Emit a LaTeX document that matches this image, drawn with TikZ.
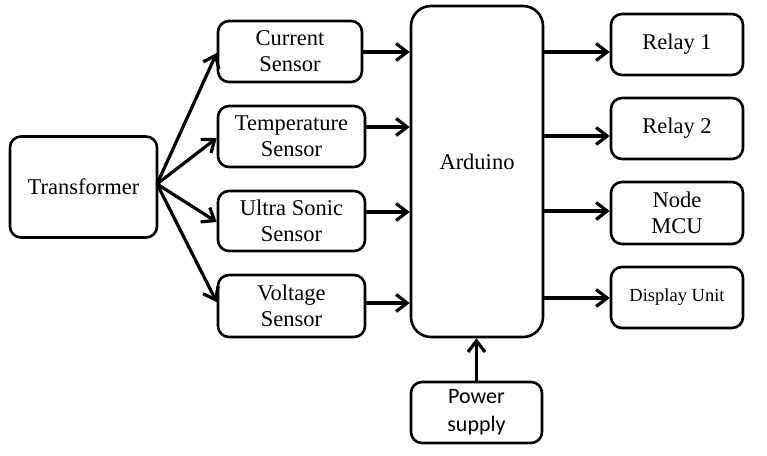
\documentclass[tikz,border=0pt]{standalone}
\usepackage{fontspec}
\setmainfont{Liberation Serif}
\newfontfamily\calib{Carlito}
\usetikzlibrary{arrows.meta}
\begin{document}
\begin{tikzpicture}[x=1pt,y=-1pt,
  box/.style={draw,line width=2.6pt,rounded corners=11pt,align=center,inner sep=0pt,font=\fontsize{22.5}{26}\selectfont},
  arr/.style={line width=3.2pt,-{Straight Barb[length=11pt,width=17pt,line width=3.2pt]}}]
\useasboundingbox (0,0) rectangle (767,455);
\node[box,minimum width=147pt,minimum height=101pt] (tr) at (83.5,187) {Transformer};
\node[box,minimum width=144pt,minimum height=61pt] (cs) at (290,51.5) {Current\\Sensor};
\node[box,minimum width=147pt,minimum height=61pt] (ts) at (291.5,136.5) {Temperature\\Sensor};
\node[box,minimum width=147pt,minimum height=60pt] (us) at (291.5,221) {Ultra Sonic\\Sensor};
\node[box,minimum width=147pt,minimum height=62pt] (vs) at (291.5,306) {Voltage\\Sensor};
\node[box,rounded corners=20pt,minimum width=132pt,minimum height=331pt] (ard) at (477,171.5) {};
\node[font=\fontsize{22.5}{26}\selectfont] (ardt) at (477,162) {Arduino};
\node[box,minimum width=132pt,minimum height=61pt] (r1) at (677,44.5) {Relay 1};
\node[box,minimum width=132pt,minimum height=61pt] (r2) at (677,128.5) {Relay 2};
\node[box,minimum width=132pt,minimum height=62pt] (nm) at (677,213) {Node\\MCU};
\node[box,minimum width=132pt,minimum height=61pt,font=\fontsize{18.5}{22}\selectfont] (du) at (677,297.5) {Display Unit};
\node[box,minimum width=131pt,minimum height=61pt,font=\calib\fontsize{22}{28}\selectfont] (ps) at (476.5,412.5) {Power\\supply};
\coordinate (f) at (157,184);
\draw[arr] (f) -- (cs.west |- 0,53);
\draw[arr] (f) -- (ts.west |- 0,138);
\draw[arr] (f) -- (us.west |- 0,222);
\draw[arr] (f) -- (vs.west |- 0,302);
\draw[arr] (cs.east |- 0,52) -- (ard.west |- 0,52);
\draw[arr] (ts.east |- 0,127) -- (ard.west |- 0,127);
\draw[arr] (us.east |- 0,212) -- (ard.west |- 0,212);
\draw[arr] (vs.east |- 0,303) -- (ard.west |- 0,303);
\draw[arr] (ard.east |- 0,52) -- (r1.west |- 0,52);
\draw[arr] (ard.east |- 0,136) -- (r2.west |- 0,136);
\draw[arr] (ard.east |- 0,211) -- (nm.west |- 0,211);
\draw[arr] (ard.east |- 0,298) -- (du.west |- 0,298);
\draw[arr] (ps.north) -- (ard.south -| ps.north);
\end{tikzpicture}
\end{document}
